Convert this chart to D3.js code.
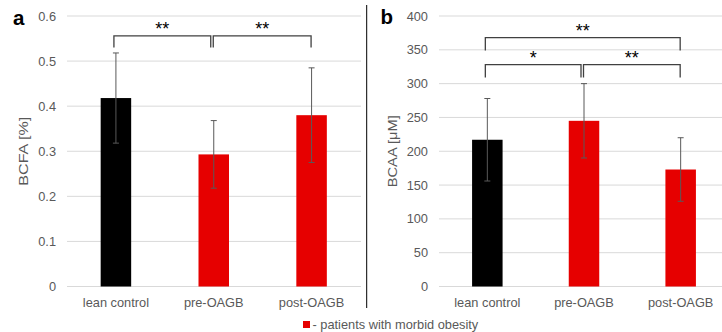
<!DOCTYPE html>
<html lang="en">
<head>
    <meta charset="UTF-8">
    <title>BCFA / BCAA</title>
    <script src="https://cdn.jsdelivr.net/npm/d3@7"></script>
    <style>
        body { margin: 0; background: #fff; }
        text { font-family: "Liberation Sans", Arial, sans-serif; }
        .tick-label { font-size: 12.8px; fill: #595959; }
        .axis-title { font-size: 13.3px; fill: #595959; }
        .panel-label { font-size: 20.5px; font-weight: bold; fill: #000; }
        .star { font-size: 18px; fill: #000; }
    </style>
</head>
<body>
    <svg width="722" height="332" id="chart"></svg>
    <script>
        const categories = ["lean control", "pre-OAGB", "post-OAGB"];
        const barColors = ["#000000", "#e60000", "#e60000"];

        const bcfaMean = [0.418, 0.293, 0.380];
        const bcfaErr = [0.100, 0.075, 0.105];
        const bcfaTicks = [0, 0.1, 0.2, 0.3, 0.4, 0.5, 0.6];

        const bcaaMean = [217, 245, 173];
        const bcaaErr = [61, 55, 47];
        const bcaaTicks = [0, 50, 100, 150, 200, 250, 300, 350, 400];

        // significance brackets: [from, to, line level, drop level, label]
        const bcfaSig = [[0, 1, 0.556, 0.530, "**"], [1, 2, 0.556, 0.530, "**"]];
        const bcaaSig = [[0, 2, 368, 349, "**"], [0, 1, 328, 309, "*"], [1, 2, 328, 309, "**"]];

        const svg = d3.select("#chart");
        const plotTop = 16, plotBottom = 286.5;

        function panel(opt) {
            const g = svg.append("g");
            const x = d3.scaleBand().domain(categories).range([opt.x0, opt.x1]);
            const y = d3.scaleLinear().domain([0, d3.max(opt.ticks)]).range([plotBottom, plotTop]);
            const bw = 30.5;

            // gridlines
            g.selectAll(".grid").data(opt.ticks).enter().append("line")
                .attr("x1", opt.x0).attr("x2", opt.gridEnd)
                .attr("y1", d => y(d)).attr("y2", d => y(d))
                .attr("stroke", "#d9d9d9").attr("stroke-width", 1);

            // tick labels
            g.selectAll(".tick-label").data(opt.ticks).enter().append("text")
                .attr("class", "tick-label")
                .attr("x", opt.x0 - 11)
                .attr("y", d => y(d) + 4.5)
                .attr("text-anchor", "end")
                .text(opt.fmt);

            // bars
            const cx = d => x(d) + x.bandwidth() / 2;
            g.selectAll(".bar").data(categories).enter().append("rect")
                .attr("x", d => cx(d) - bw / 2)
                .attr("y", (d, i) => y(opt.mean[i]))
                .attr("width", bw)
                .attr("height", (d, i) => y(0) - y(opt.mean[i]))
                .attr("fill", (d, i) => barColors[i]);

            // error bars
            const eb = g.selectAll(".err").data(categories).enter().append("g")
                .attr("stroke", "#595959").attr("stroke-width", 1);
            eb.append("line")
                .attr("x1", d => cx(d)).attr("x2", d => cx(d))
                .attr("y1", (d, i) => y(opt.mean[i] + opt.err[i]))
                .attr("y2", (d, i) => y(opt.mean[i] - opt.err[i]));
            [1, -1].forEach(s => {
                eb.append("line")
                    .attr("x1", d => cx(d) - 3).attr("x2", d => cx(d) + 3)
                    .attr("y1", (d, i) => y(opt.mean[i] + s * opt.err[i]))
                    .attr("y2", (d, i) => y(opt.mean[i] + s * opt.err[i]));
            });

            // category labels
            g.selectAll(".cat").data(categories).enter().append("text")
                .attr("class", "tick-label")
                .attr("x", cx)
                .attr("y", 307)
                .attr("text-anchor", "middle")
                .text(d => d);

            // brackets
            opt.sig.forEach(s => {
                const xa = cx(categories[s[0]]) - 2;
                const xb = cx(categories[s[1]]) - (s[1] === 1 ? 3 : 0.5);
                const x1 = s[0] === 1 ? cx(categories[1]) - 0.5 : xa;
                g.append("path")
                    .attr("d", `M${x1},${y(s[3])}V${y(s[2])}H${xb}V${y(s[3])}`)
                    .attr("fill", "none").attr("stroke", "#404040").attr("stroke-width", 1.3);
                g.append("text")
                    .attr("class", "star")
                    .attr("x", (x1 + xb) / 2)
                    .attr("y", y(s[2]) - 0.5)
                    .attr("text-anchor", "middle")
                    .text(s[4]);
            });

            // axis title
            g.append("text")
                .attr("class", "axis-title")
                .attr("transform", `translate(${opt.titleX},${(plotTop + plotBottom) / 2}) rotate(-90)`)
                .attr("text-anchor", "middle")
                .attr("textLength", opt.titleLen)
                .attr("lengthAdjust", "spacingAndGlyphs")
                .text(opt.title);

            // panel letter
            g.append("text")
                .attr("class", "panel-label")
                .attr("x", opt.letterX).attr("y", opt.letterY)
                .text(opt.letter);
        }

        panel({x0: 67, x1: 360.5, gridEnd: 361, ticks: bcfaTicks, mean: bcfaMean, err: bcfaErr,
               sig: bcfaSig, fmt: d => d === 0 ? "0" : d.toFixed(1), title: "BCFA [%]",
               titleX: 27.5, titleLen: 69, letter: "a", letterX: 13, letterY: 25});
        panel({x0: 439, x1: 729, gridEnd: 722, ticks: bcaaTicks, mean: bcaaMean, err: bcaaErr,
               sig: bcaaSig, fmt: d => d, title: "BCAA [μM]",
               titleX: 396.5, titleLen: 72, letter: "b", letterX: 380.5, letterY: 23.5});

        // separator
        svg.append("line")
            .attr("x1", 366.7).attr("x2", 366.7).attr("y1", 5).attr("y2", 308)
            .attr("stroke", "#000").attr("stroke-width", 1);

        // legend
        svg.append("rect").attr("x", 303).attr("y", 321).attr("width", 7).attr("height", 7).attr("fill", "#e60000");
        svg.append("text").attr("class", "tick-label").attr("x", 312.5).attr("y", 328.5)
            .text("- patients with morbid obesity");
    </script>
</body>
</html>
